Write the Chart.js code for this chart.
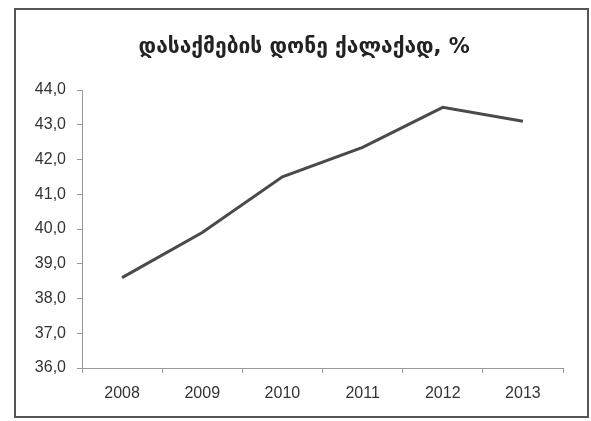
<!DOCTYPE html>
<html>
<head>
<meta charset="utf-8">
<script src="https://cdn.jsdelivr.net/npm/chart.js@4"></script>
<style>
	body { margin: 0; background: #fff; }
	#wrap { width: 591px; height: 421px; }
</style>
</head>
<body>
<div id="wrap"><canvas id="myChart" width="591" height="421"></canvas></div>
<script>
const years = ['2008', '2009', '2010', '2011', '2012', '2013'];
const rate = [38.6, 39.9, 41.5, 42.35, 43.5, 43.1];
const yTicks = [36, 37, 38, 39, 40, 41, 42, 43, 44];
const title = 'დასაქმების დონე ქალაქად, %';

// frame round the whole chart, like the exported office chart
const framePlugin = {
	id: 'frame',
	afterDraw(chart) {
		const ctx = chart.ctx;
		ctx.save();
		ctx.strokeStyle = '#555';
		ctx.lineWidth = 2;
		ctx.strokeRect(15, 9, 573, 408);
		ctx.restore();
	},
};

var ctx = document.getElementById('myChart').getContext('2d');
var myChart = new Chart(ctx, {
	type: 'line',
	data: {
		labels: years,
		datasets: [
			{
				data: rate,
				borderColor: '#4a4a4a',
				borderWidth: 3,
				pointRadius: 0,
				tension: 0,
			},
		],
	},
	options: {
		responsive: false,
		animation: false,
		layout: { padding: { left: 14, right: 28, top: 0, bottom: 3 } },
		plugins: {
			legend: { display: false },
			tooltip: { enabled: false },
			title: {
				display: true,
				// leading spaces nudge the title right, as in the original
				text: '\u2003\u2002' + title,
				color: '#222',
				font: { family: 'DejaVu Sans', size: 21, weight: 'bold' },
				padding: { top: 35, bottom: 29.8 },
			},
		},
		scales: {
			x: {
				offset: true,
				afterFit: (s) => { s.height = 50; },
				grid: { offset: true, drawOnChartArea: false, tickLength: 5, color: '#999' },
				border: { color: '#999' },
				ticks: {
					color: '#333',
					padding: 11,
					font: { family: 'Liberation Sans', size: 16 },
				},
			},
			y: {
				min: 36,
				max: 44,
				afterFit: (s) => { s.width = 68; },
				afterBuildTicks: (s) => { s.ticks = yTicks.map((v) => ({ value: v })); },
				grid: { drawOnChartArea: false, tickLength: 5, color: '#999' },
				border: { color: '#999' },
				ticks: {
					color: '#333',
					padding: 11,
					font: { family: 'Liberation Sans', size: 16 },
					callback: (v) => v.toFixed(1).replace('.', ','),
				},
			},
		},
	},
	plugins: [framePlugin],
});
</script>
</body>
</html>
